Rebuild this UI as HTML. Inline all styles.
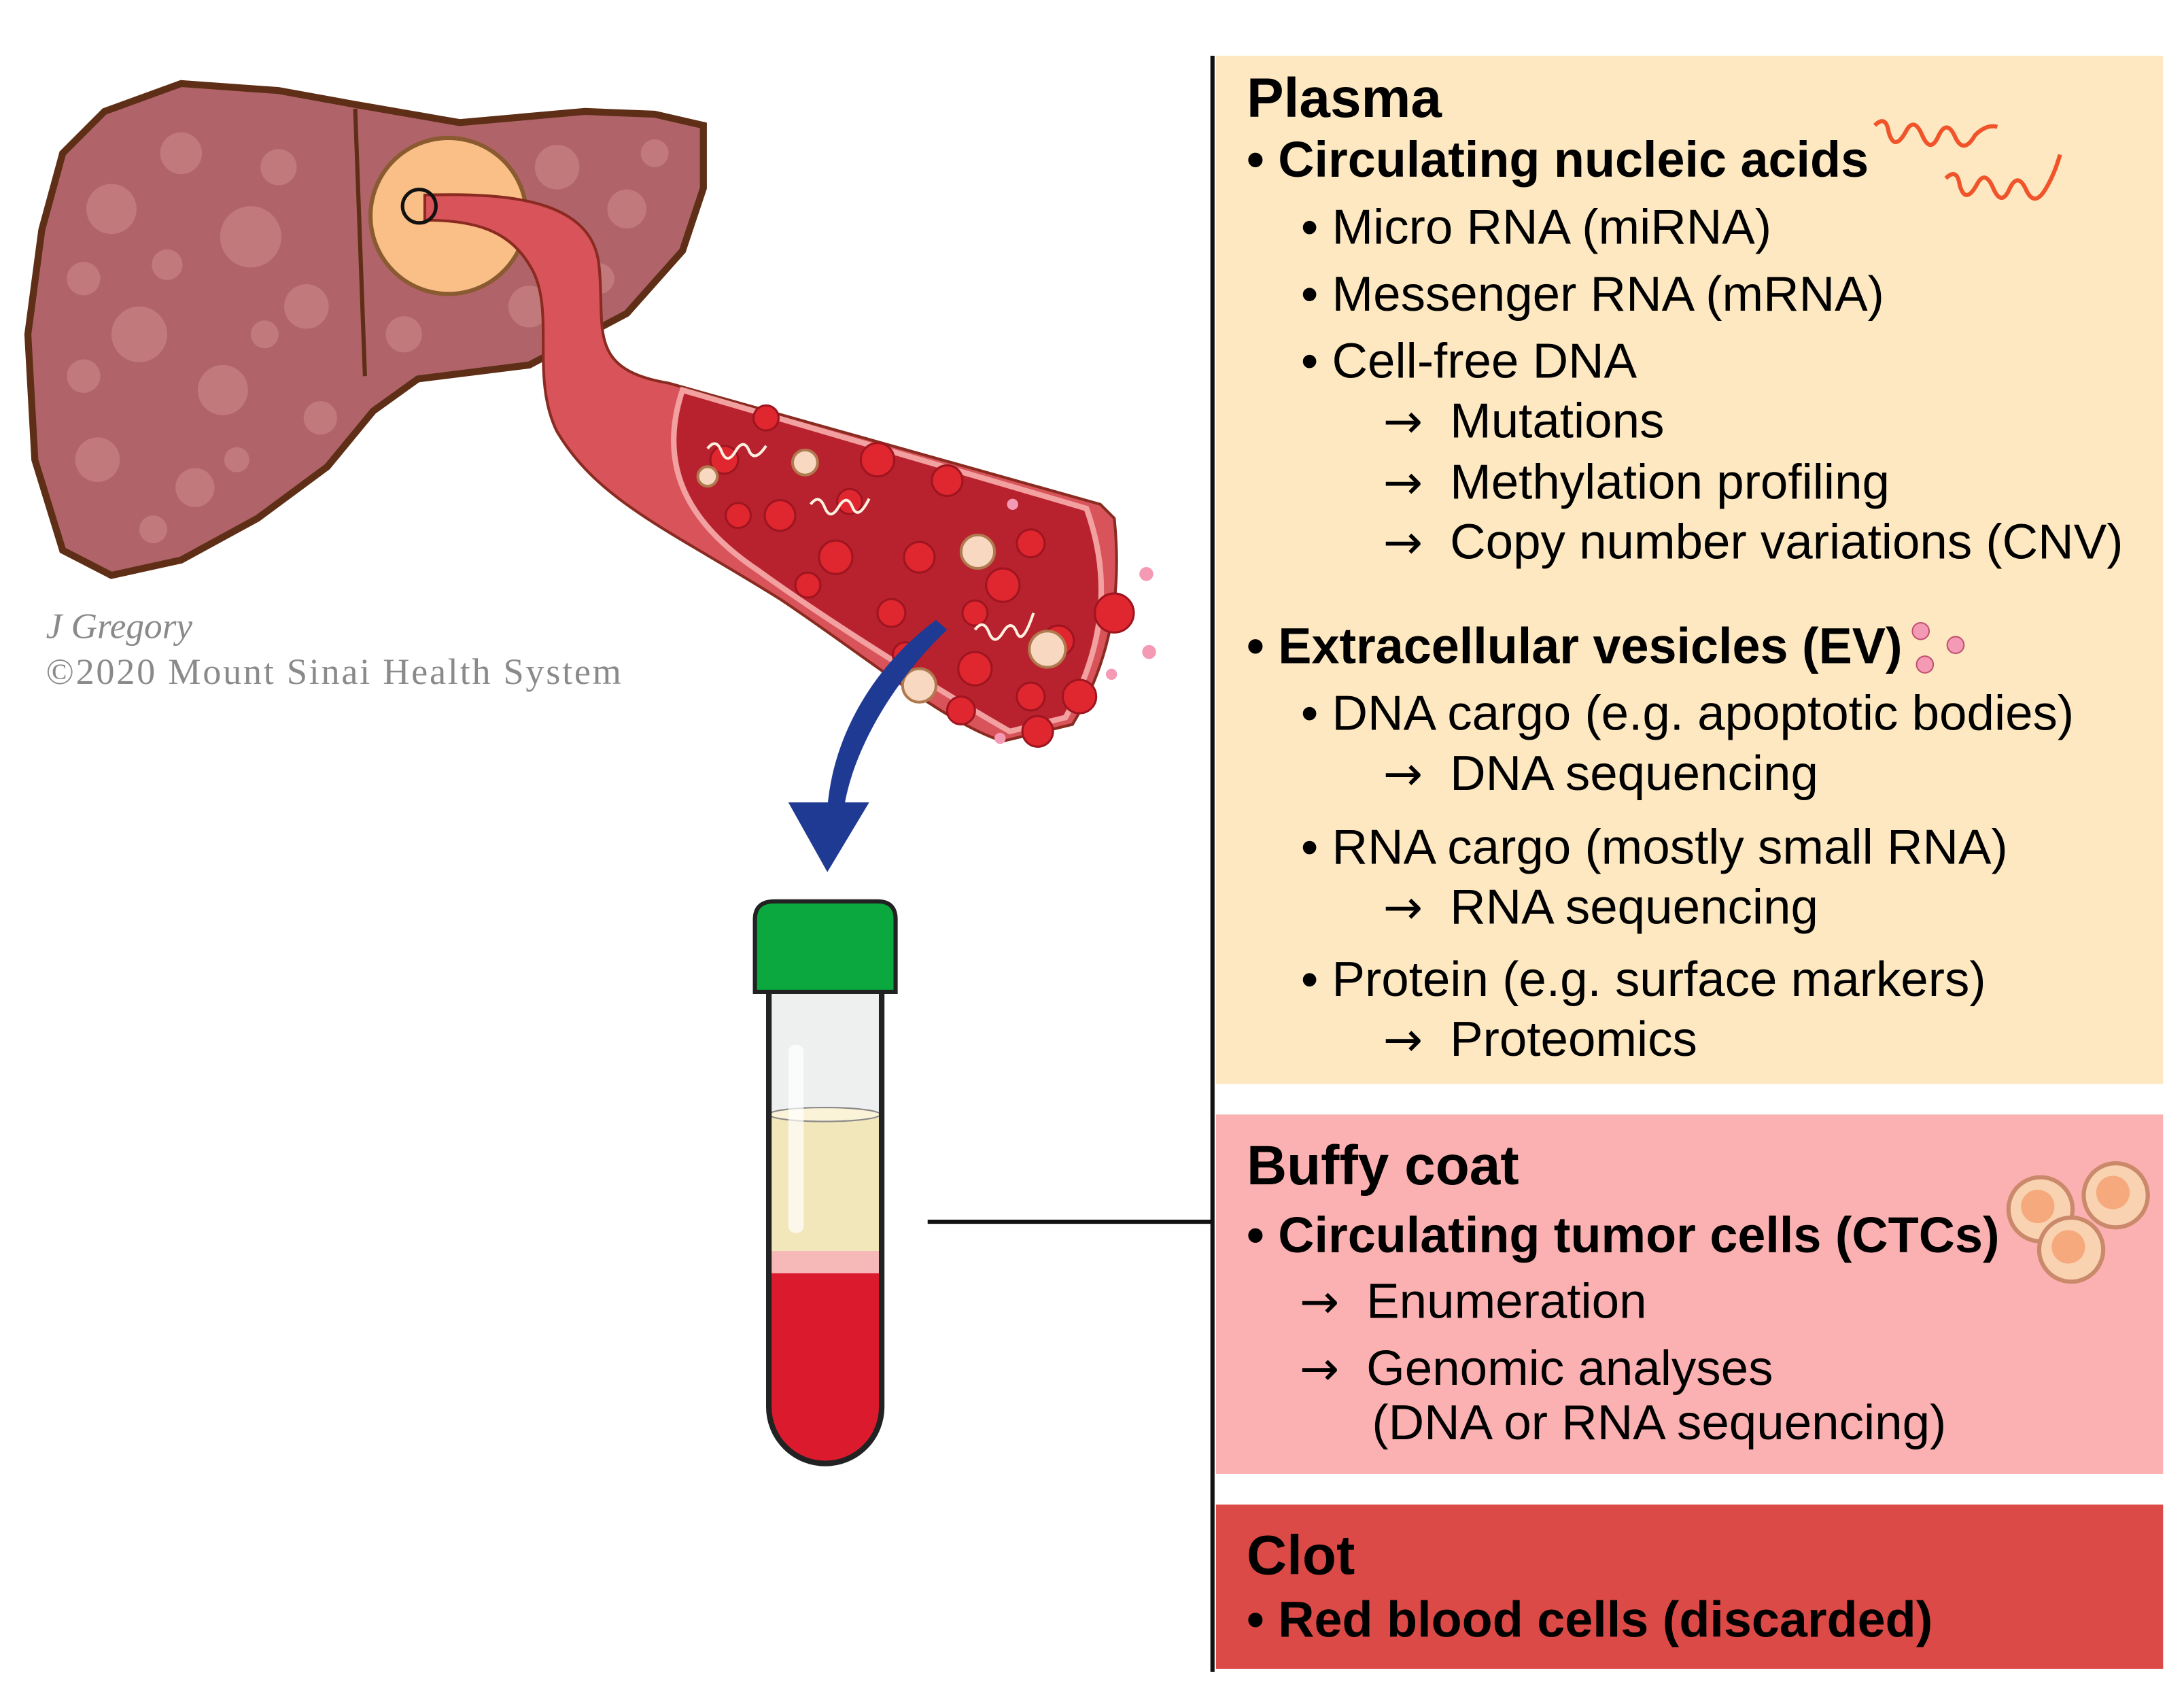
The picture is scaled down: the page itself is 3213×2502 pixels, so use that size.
<!DOCTYPE html>
<html><head><meta charset="utf-8"><style>
html,body{margin:0;padding:0;background:#fff;}
svg{display:block;}
text{font-family:"Liberation Sans",Arial,sans-serif;fill:#000;}
.b{font-weight:bold;font-size:36px;}
.h{font-weight:bold;font-size:40px;}
.r{font-size:35.5px;}
.ar{font-family:"DejaVu Sans",sans-serif;font-size:34px;}
</style></head><body>
<svg width="3213" height="2502" viewBox="0 0 1568 1221" preserveAspectRatio="none" xmlns="http://www.w3.org/2000/svg">
<rect width="1568" height="1221" fill="#fff"/>
<rect x="873" y="40" width="680" height="738" fill="#fde8c1"/>
<rect x="873" y="800" width="680" height="258" fill="#fbb1b1"/>
<rect x="873" y="1080" width="680" height="118" fill="#db4a46"/>
<line x1="870.5" y1="40" x2="870.5" y2="1200" stroke="#111" stroke-width="3"/>
<line x1="666" y1="877" x2="870" y2="877" stroke="#111" stroke-width="3"/>

<text class="h" x="895" y="84">Plasma</text>
<text class="b" x="895" y="127">• Circulating nucleic acids</text>
<text class="r" x="934" y="175">• Micro RNA (miRNA)</text>
<text class="r" x="934" y="223">• Messenger RNA (mRNA)</text>
<text class="r" x="934" y="271">• Cell-free DNA</text>
<text class="ar" x="993" y="314">→</text><text class="r" x="1041" y="314">Mutations</text>
<text class="ar" x="993" y="358">→</text><text class="r" x="1041" y="358">Methylation profiling</text>
<text class="ar" x="993" y="401">→</text><text class="r" x="1041" y="401">Copy number variations (CNV)</text>
<text class="b" x="895" y="476">• Extracellular vesicles (EV)</text>
<text class="r" x="934" y="524">• DNA cargo (e.g. apoptotic bodies)</text>
<text class="ar" x="993" y="567">→</text><text class="r" x="1041" y="567">DNA sequencing</text>
<text class="r" x="934" y="620">• RNA cargo (mostly small RNA)</text>
<text class="ar" x="993" y="663">→</text><text class="r" x="1041" y="663">RNA sequencing</text>
<text class="r" x="934" y="715">• Protein (e.g. surface markers)</text>
<text class="ar" x="993" y="758">→</text><text class="r" x="1041" y="758">Proteomics</text>

<text class="h" x="895" y="850">Buffy coat</text>
<text class="b" x="895" y="899">• Circulating tumor cells (CTCs)</text>
<text class="ar" x="933" y="946">→</text><text class="r" x="981" y="946">Enumeration</text>
<text class="ar" x="933" y="994">→</text><text class="r" x="981" y="994">Genomic analyses</text>
<text class="r" x="985" y="1033">(DNA or RNA sequencing)</text>

<text class="h" x="895" y="1130">Clot</text>
<text class="b" x="895" y="1175">• Red blood cells (discarded)</text>

<g fill="none" stroke="#f0542a" stroke-width="3">
<path d="M1346 90 q8 -8 10 5 q4 14 12 0 q6 -12 12 2 q6 14 12 0 q6 -12 12 2 q6 12 14 -2 q8 -8 16 -6"/>
<path d="M1397 128 q8 -8 10 5 q4 14 12 0 q6 -12 12 2 q6 14 12 0 q6 -12 12 2 q6 12 14 -2 q6 -10 10 -24"/>
</g>
<g fill="#f49ab4" stroke="#c05070" stroke-width="1">
<circle cx="1379" cy="453" r="6"/><circle cx="1382" cy="477" r="6"/><circle cx="1404" cy="463" r="6"/>
</g>
<g stroke="#c9896a" stroke-width="3" fill="#f9d2b2">
<circle cx="1465" cy="868" r="23"/><circle cx="1519" cy="858" r="23"/><circle cx="1487" cy="897" r="23"/>
</g>
<g fill="#f5a97c"><circle cx="1463" cy="866" r="12"/><circle cx="1517" cy="856" r="12"/><circle cx="1485" cy="895" r="12"/></g>

<path d="M30 165 L45 110 L75 80 L130 60 L200 65 L255 75 L330 88 L420 80 L470 82 L505 90 L505 135 L490 180 L450 225 L380 262 L300 272 L268 295 L235 335 L185 372 L130 402 L80 413 L45 395 L25 330 L20 240 Z" fill="#b0646a" stroke="#5e2f16" stroke-width="5"/>
<g fill="#c98285" opacity="0.7">
<circle cx="80" cy="150" r="18"/><circle cx="130" cy="110" r="15"/><circle cx="180" cy="170" r="22"/><circle cx="100" cy="240" r="20"/><circle cx="160" cy="280" r="18"/><circle cx="220" cy="220" r="16"/><circle cx="70" cy="330" r="16"/><circle cx="140" cy="350" r="14"/><circle cx="200" cy="120" r="13"/><circle cx="400" cy="120" r="16"/><circle cx="450" cy="150" r="14"/><circle cx="380" cy="220" r="15"/><circle cx="290" cy="240" r="13"/><circle cx="60" cy="200" r="12"/><circle cx="230" cy="300" r="12"/>
<circle cx="120" cy="190" r="11"/><circle cx="60" cy="270" r="12"/><circle cx="190" cy="240" r="10"/><circle cx="110" cy="380" r="10"/><circle cx="470" cy="110" r="10"/><circle cx="430" cy="200" r="11"/><circle cx="170" cy="330" r="9"/>
</g>
<path d="M255 78 L262 270" stroke="#5e2f16" stroke-width="3"/>
<circle cx="322" cy="155" r="56" fill="#f9bf87" stroke="#8a5a30" stroke-width="3"/>
<path d="M305 140 C370 138 425 145 430 190 C435 235 420 265 480 275 L790 362 L800 372 C805 420 800 470 770 520 L720 532 C680 520 620 470 560 430 C480 380 430 360 400 310 C380 270 400 220 380 190 C365 165 340 158 305 158 Z" fill="#d8545a" stroke="#8a2a20" stroke-width="2"/>
<path d="M490 280 L780 365 C800 420 790 470 765 515 L725 525 C690 505 600 450 545 410 C500 380 470 340 490 280 Z" fill="#b8222e" stroke="#f2a0a0" stroke-width="4"/>
<g fill="#e0262f" stroke="#9e1520" stroke-width="1.5">
<circle cx="520" cy="330" r="10"/><circle cx="560" cy="370" r="11"/><circle cx="630" cy="330" r="12"/><circle cx="680" cy="345" r="11"/><circle cx="600" cy="400" r="12"/><circle cx="660" cy="400" r="11"/><circle cx="720" cy="420" r="12"/><circle cx="760" cy="460" r="11"/><circle cx="700" cy="480" r="12"/><circle cx="740" cy="500" r="10"/><circle cx="800" cy="440" r="14"/><circle cx="775" cy="500" r="12"/><circle cx="690" cy="510" r="10"/><circle cx="745" cy="525" r="11"/><circle cx="640" cy="440" r="10"/><circle cx="550" cy="300" r="9"/>
<circle cx="530" cy="370" r="9"/><circle cx="610" cy="360" r="9"/><circle cx="740" cy="390" r="10"/><circle cx="700" cy="440" r="9"/><circle cx="580" cy="420" r="9"/><circle cx="650" cy="470" r="9"/>
</g>
<g fill="#f8d8c0" stroke="#b07a50" stroke-width="2">
<circle cx="578" cy="332" r="9"/><circle cx="508" cy="342" r="7"/><circle cx="702" cy="396" r="12"/><circle cx="752" cy="466" r="13"/><circle cx="660" cy="492" r="12"/>
</g>
<g fill="#f49ab4"><circle cx="823" cy="412" r="5"/><circle cx="825" cy="468" r="5"/><circle cx="798" cy="484" r="4"/><circle cx="718" cy="530" r="4"/><circle cx="727" cy="362" r="4"/></g>
<g fill="none" stroke="#fff0e0" stroke-width="2">
<path d="M508 322 q6 -8 10 2 q4 10 10 0 q6 -10 10 0 q4 8 12 -4"/>
<path d="M582 362 q6 -8 10 2 q4 10 10 0 q6 -10 10 0 q4 10 12 -6"/>
<path d="M700 452 q6 -8 10 2 q4 10 10 0 q6 -10 10 0 q4 10 12 -14"/>
</g>
<circle cx="301" cy="148" r="12" fill="none" stroke="#111" stroke-width="2.5"/>
<path d="M680 452 C640 490 612 540 606 580 L594 580 C598 530 625 480 672 445 Z" fill="#1f3a93"/>
<path d="M566 576 L624 576 L594 626 Z" fill="#1f3a93"/>
<text x="33" y="458" style="font-family:'Liberation Serif',serif;font-style:italic;font-size:26px;fill:#8a8a8a">J Gregory</text>
<text x="33" y="491" style="font-family:'Liberation Serif',serif;font-size:26.5px;fill:#8a8a8a" textLength="413">©2020 Mount Sinai Health System</text>
<path d="M552 712 L552 1010 A40 40 0 0 0 633 1010 L633 712 Z" fill="#eef0f0"/>
<path d="M552 800 L633 800 L633 900 L552 900 Z" fill="#f2e6bb"/>
<path d="M552 898 L633 898 L633 916 L552 916 Z" fill="#f7b8b8"/>
<path d="M552 914 L633 914 L633 1010 A40 40 0 0 1 552 1010 Z" fill="#dc1a2e"/>
<ellipse cx="592" cy="800" rx="40" ry="5" fill="#faf3d8" stroke="#888" stroke-width="1"/>
<rect x="566" y="750" width="11" height="135" rx="5" fill="#fff" opacity="0.7"/>
<path d="M552 712 L552 1010 A40 40 0 0 0 633 1010 L633 712" fill="none" stroke="#222" stroke-width="4"/>
<path d="M542 712 L542 660 Q542 647 556 647 L630 647 Q643 647 643 660 L643 712 Z" fill="#0aa83e" stroke="#222" stroke-width="3"/>
</svg>
</body></html>
